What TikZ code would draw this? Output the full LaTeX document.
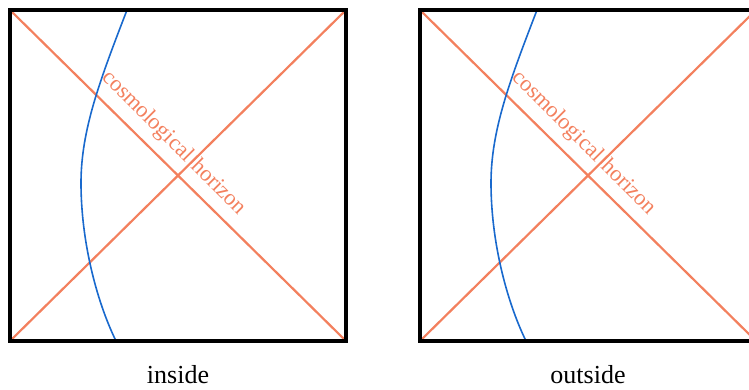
\documentclass[tikz,border=0pt]{standalone}
\usepackage{fontspec}
\setmainfont{Liberation Serif}
\definecolor{horiz}{RGB}{243,128,94}
\definecolor{worldline}{RGB}{25,105,205}
\tikzset{
  frame/.style={draw=black,line width=4pt,line join=miter},
  diag/.style={draw=horiz,line width=2.2pt},
  wline/.style={draw=worldline,line width=1.6pt},
  horizlabel/.style={text=horiz,font=\fontsize{22.5}{26}\selectfont,rotate=-45,inner sep=0pt},
  panellabel/.style={font=\fontsize{26}{30}\selectfont,anchor=base,inner sep=0pt}
}
\begin{document}
\begin{tikzpicture}[x=1pt,y=-1pt]
\useasboundingbox (0,0) rectangle (749,389);
\clip (0,0) rectangle (749,389);
\foreach \dx/\lab in {0/inside,410/outside}{
  \begin{scope}[xshift=\dx pt]
    \coordinate (tl\dx) at (10,10);
    \coordinate (tr\dx) at (346,10);
    \coordinate (bl\dx) at (10,341);
    \coordinate (br\dx) at (346,341);
    \draw[diag] (tl\dx) -- (br\dx);
    \draw[diag] (bl\dx) -- (tr\dx);
    \coordinate (wa\dx) at (127,10);
    \coordinate (wb\dx) at (81,183);
    \coordinate (wc\dx) at (116,341);
    \draw[wline] (wa\dx) .. controls (100,80) and (81,130) .. (wb\dx)
                 .. controls (81,240) and (96,300) .. (wc\dx);
    \node[horizlabel,anchor=base east] (hl\dx) at (186,163) {cosmological};
    \node[horizlabel,anchor=base west] (hr\dx) at (190,167) {horizon};
    \draw[frame] (tl\dx) -- (tr\dx) -- (br\dx) -- (bl\dx) -- cycle;
    \node[panellabel] (lab\dx) at (178,383) {\lab};
  \end{scope}
}
\end{tikzpicture}
\end{document}
